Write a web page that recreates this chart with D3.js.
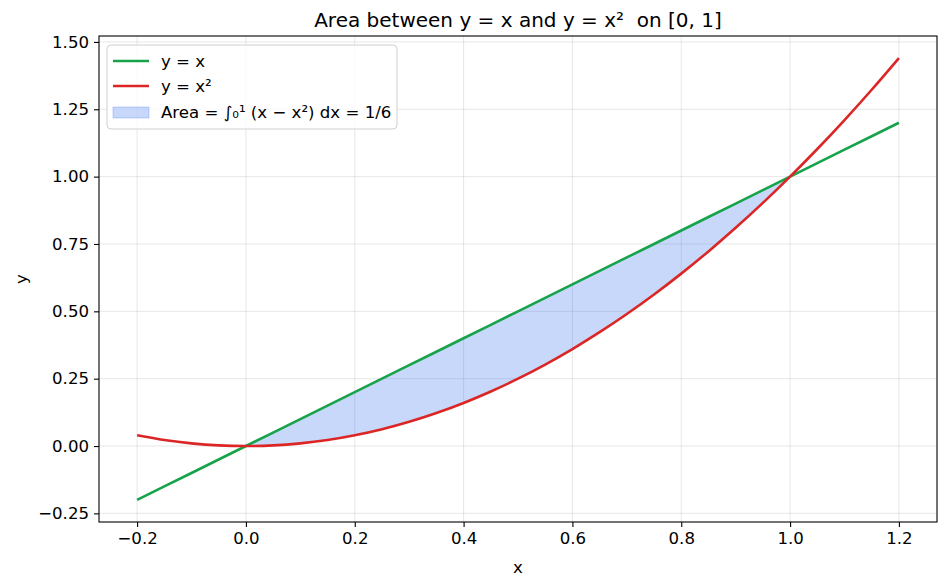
<!DOCTYPE html>
<html lang="en">
<head>
<meta charset="utf-8">
<script src="https://d3js.org/d3.v7.min.js"></script>
<style>
  body { margin: 0; background: #fff; }
  text { font-family: "DejaVu Sans", sans-serif; fill: #000; }
</style>
</head>
<body>
<div id="chart"></div>
<script>
// data
var xs = [-0.2, -0.15, -0.1, -0.05, 0.0, 0.05, 0.1, 0.15, 0.2, 0.25, 0.3, 0.35, 0.4, 0.45, 0.5,
          0.55, 0.6, 0.65, 0.7, 0.75, 0.8, 0.85, 0.9, 0.95, 1.0, 1.05, 1.1, 1.15, 1.2];
var lineY = [-0.2, -0.15, -0.1, -0.05, 0.0, 0.05, 0.1, 0.15, 0.2, 0.25, 0.3, 0.35, 0.4, 0.45, 0.5,
             0.55, 0.6, 0.65, 0.7, 0.75, 0.8, 0.85, 0.9, 0.95, 1.0, 1.05, 1.1, 1.15, 1.2];
var parabY = [0.04, 0.0225, 0.01, 0.0025, 0.0, 0.0025, 0.01, 0.0225, 0.04, 0.0625, 0.09, 0.1225, 0.16, 0.2025, 0.25,
              0.3025, 0.36, 0.4225, 0.49, 0.5625, 0.64, 0.7225, 0.81, 0.9025, 1.0, 1.1025, 1.21, 1.3225, 1.44];
var xTicks = [-0.2, 0.0, 0.2, 0.4, 0.6, 0.8, 1.0, 1.2];
var yTicks = [-0.25, 0.0, 0.25, 0.5, 0.75, 1.0, 1.25, 1.5];
var areaRange = [0, 1];
var legendLabels = ["y = x", "y = x\u00b2", "Area = \u222b\u2080\u00b9 (x \u2212 x\u00b2) dx = 1/6"];

var W = 949, H = 588;
var margin = {top: 36, right: 12, bottom: 66, left: 99};
var width = W - margin.left - margin.right,
    height = H - margin.top - margin.bottom;

var green = "#16a34a", red = "#dc2626", fillCol = "rgba(37,99,235,0.25)";
var fs = "16.6px";

var svg = d3.select("#chart").append("svg")
    .attr("width", W).attr("height", H);
var g = svg.append("g")
    .attr("transform", "translate(" + margin.left + "," + margin.top + ")");

var x = d3.scaleLinear().domain([-0.27, 1.27]).range([0, width]);
var y = d3.scaleLinear().domain([-0.282, 1.522]).range([height, 0]);

// grid
g.append("g").selectAll("line").data(xTicks).enter().append("line")
    .attr("x1", function(d) { return x(d); }).attr("x2", function(d) { return x(d); })
    .attr("y1", 0).attr("y2", height)
    .attr("stroke", "#b0b0b0").attr("stroke-opacity", 0.3).attr("stroke-width", 1);
g.append("g").selectAll("line").data(yTicks).enter().append("line")
    .attr("y1", function(d) { return y(d); }).attr("y2", function(d) { return y(d); })
    .attr("x1", 0).attr("x2", width)
    .attr("stroke", "#b0b0b0").attr("stroke-opacity", 0.3).attr("stroke-width", 1);

var pts = xs.map(function(v, i) { return {x: v, a: lineY[i], b: parabY[i]}; });
var inside = pts.filter(function(p) { return p.x >= areaRange[0] && p.x <= areaRange[1]; });

// area between curves
g.append("path").datum(inside)
    .attr("d", d3.area().curve(d3.curveMonotoneX)
        .x(function(p) { return x(p.x); })
        .y0(function(p) { return y(p.b); })
        .y1(function(p) { return y(p.a); }))
    .attr("fill", fillCol);

g.append("path").datum(pts)
    .attr("d", d3.line().x(function(p) { return x(p.x); }).y(function(p) { return y(p.a); }))
    .attr("fill", "none").attr("stroke", green).attr("stroke-width", 2.6);

g.append("path").datum(pts)
    .attr("d", d3.line().curve(d3.curveMonotoneX)
        .x(function(p) { return x(p.x); }).y(function(p) { return y(p.b); }))
    .attr("fill", "none").attr("stroke", red).attr("stroke-width", 2.6);

// axes
var fmtX = function(d) { return d3.format(".1f")(d).replace("-", "\u2212"); };
var fmtY = function(d) { return d3.format(".2f")(d).replace("-", "\u2212"); };

var xAxis = g.append("g").attr("transform", "translate(0," + height + ")")
    .call(d3.axisBottom(x).tickValues(xTicks).tickFormat(fmtX).tickSize(5).tickPadding(5));
var yAxis = g.append("g")
    .call(d3.axisLeft(y).tickValues(yTicks).tickFormat(fmtY).tickSize(5).tickPadding(5));
[xAxis, yAxis].forEach(function(a) {
    a.select(".domain").remove();
    a.selectAll("line").attr("stroke", "#000").attr("stroke-width", 1.1);
    a.selectAll("text").style("font-size", fs).attr("font-family", "DejaVu Sans");
});

g.append("rect").attr("width", width).attr("height", height)
    .attr("fill", "none").attr("stroke", "#000").attr("stroke-width", 1.1);

// labels
svg.append("text").attr("x", margin.left + width / 2).attr("y", 27)
    .attr("text-anchor", "middle").style("font-size", "20px")
    .style("white-space", "pre")
    .text("Area between y = x and y = x\u00b2\u00a0 on [0, 1]");
svg.append("text").attr("x", margin.left + width / 2).attr("y", 573)
    .attr("text-anchor", "middle").style("font-size", fs).text("x");
svg.append("text").attr("transform", "translate(27," + (margin.top + height / 2) + ") rotate(-90)")
    .attr("text-anchor", "middle").style("font-size", fs).text("y");

// legend
var leg = svg.append("g").attr("transform", "translate(107,45)");
leg.append("rect").attr("width", 290).attr("height", 84).attr("rx", 4)
    .attr("fill", "#fff").attr("fill-opacity", 0.8)
    .attr("stroke", "#d0d0d0").attr("stroke-width", 1);
var rowsY = [16, 41, 67];
var items = leg.selectAll("g.item").data(legendLabels).enter().append("g")
    .attr("transform", function(d, i) { return "translate(0," + rowsY[i] + ")"; });
items.each(function(d, i) {
    var s = d3.select(this);
    if (i < 2) {
        s.append("line").attr("x1", 6).attr("x2", 42).attr("y1", 0).attr("y2", 0)
            .attr("stroke", i === 0 ? green : red).attr("stroke-width", 2.6);
    } else {
        s.append("rect").attr("x", 6).attr("y", -5).attr("width", 36).attr("height", 11)
            .attr("fill", fillCol).attr("stroke", "rgba(37,99,235,0.25)");
    }
    s.append("text").attr("x", 54).attr("y", 6).style("font-size", fs).text(d);
});
</script>
</body>
</html>
